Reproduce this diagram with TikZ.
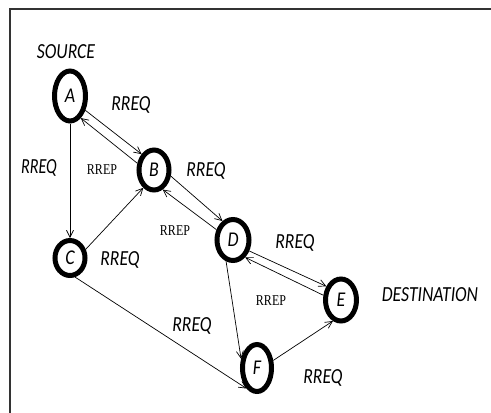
\documentclass[tikz,border=0pt]{standalone}
\usepackage{fontspec}
\setmainfont{Carlito}
\newfontfamily\serifsmall{Liberation Serif}
\usetikzlibrary{shapes.geometric,arrows.meta}
\newcommand\squeezed[2]{\scalebox{#1}[1]{#2}}
\tikzset{
  ring/.style={draw, ellipse, line width=5pt, inner sep=0pt,
    font=\itshape\fontsize{21}{21}\selectfont},
  req/.style={font=\itshape\fontsize{21.5}{21.5}\selectfont, inner sep=0pt},
  rep/.style={font=\serifsmall\fontsize{15}{15}\selectfont, inner sep=0pt},
  link/.style={line width=0.7pt, -{Straight Barb[length=7pt,width=7pt]}},
  frame/.style={line width=2pt, draw=black!80}
}
\begin{document}
\begin{tikzpicture}[x=1pt, y=-1pt]
\useasboundingbox (0,0) rectangle (491,413);
\fill[white] (0,0) rectangle (491,413);
% frame edges
\draw[frame] (10,413) -- (10,9) -- (491,9);

% stations
\node[ring, minimum width=31pt, minimum height=50pt] (A) at (70,96) {\squeezed{0.85}{A}};
\node[ring, minimum width=30pt, minimum height=40pt] (B) at (154,170) {\squeezed{0.85}{B}};
\node[ring, minimum width=30pt, minimum height=35pt] (C) at (70,258) {\squeezed{0.85}{C}};
\node[ring, minimum width=32pt, minimum height=41pt] (D) at (233,240) {\squeezed{0.85}{D}};
\node[ring, minimum width=31pt, minimum height=42pt] (E) at (341,300) {\squeezed{0.85}{E}};
\node[ring, minimum width=29pt, minimum height=47pt] (F) at (257,368) {\squeezed{0.85}{F}};

% roles
\node[req] (src) at (66,52) {\squeezed{0.82}{SOURCE}};
\node[req] (dst) at (430,295) {\squeezed{0.82}{DESTINATION}};

% requests and replies
\draw[link] (A.-43) -- (B.128);
\draw[link] (B.158) -- (A.-64);
\draw[link] (A.south) -- (C.north);
\draw[link] (C.29) -- (B.-121);
\draw[link] (B.-20) -- (D.119);
\draw[link] (D.148) -- (B.-66);
\draw[link] (D.-34) -- (E.137);
\draw[link] (E.165) -- (D.-55);
\draw[link] (D.-108) -- (F.150);
\draw[link] (C.-75) -- (F.-117);
\draw[link] (F.25) -- (E.-111);

% message labels
\node[req] (q1) at (131,105) {\squeezed{0.82}{RREQ}};
\node[req] (q2) at (39,168) {\squeezed{0.75}{RREQ}};
\node[rep] (p1) at (102,170) {\squeezed{0.8}{RREP}};
\node[req] (q3) at (206,171) {\squeezed{0.82}{RREQ}};
\node[rep] (p2) at (175,231) {\squeezed{0.8}{RREP}};
\node[req] (q4) at (120,260) {\squeezed{0.82}{RREQ}};
\node[req] (q5) at (295,243) {\squeezed{0.82}{RREQ}};
\node[rep] (p3) at (271,301) {\squeezed{0.8}{RREP}};
\node[req] (q6) at (192,326) {\squeezed{0.82}{RREQ}};
\node[req] (q7) at (323,378) {\squeezed{0.82}{RREQ}};
\end{tikzpicture}
\end{document}
